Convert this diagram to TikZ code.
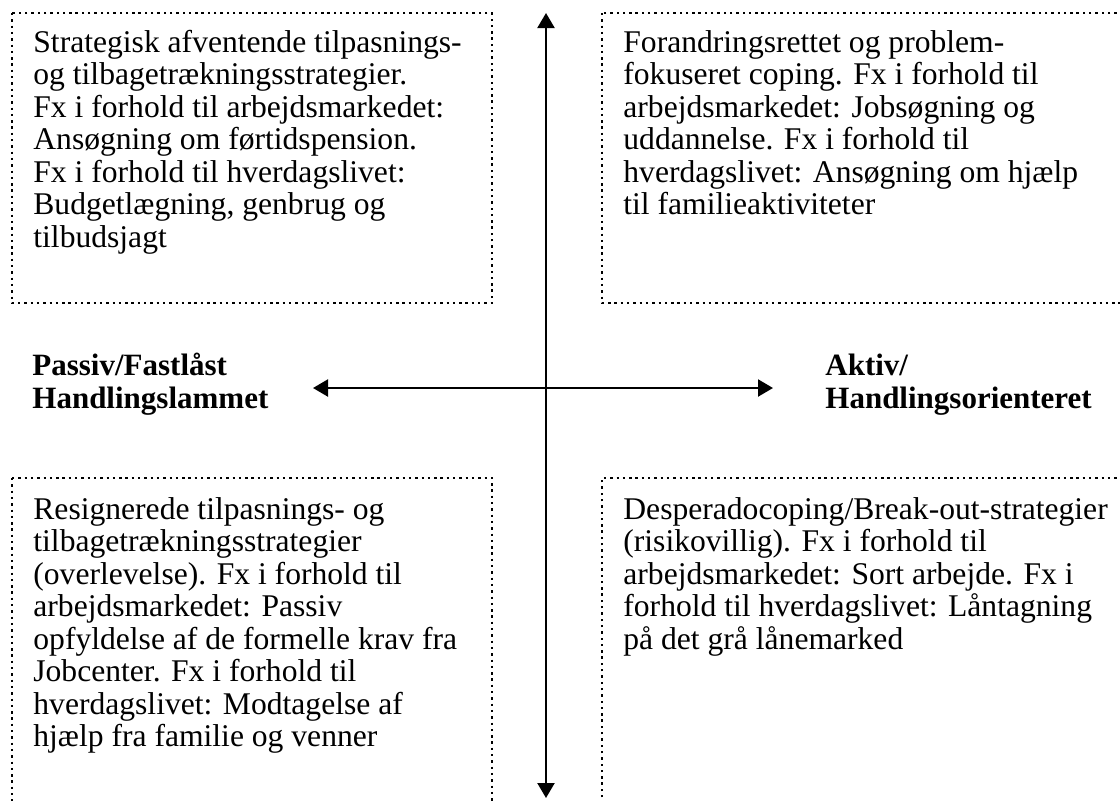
\documentclass[tikz,border=0pt]{standalone}
\usepackage{fontspec}
\setmainfont{Liberation Serif}
\usetikzlibrary{arrows.meta}

\tikzset{
  quadbox/.style={line width=1.2pt, dash pattern=on 1.2pt off 1.95pt},
  quadtext/.style={anchor=base west, align=left, inner sep=0pt,
    font=\fontsize{15.8}{16.25}\selectfont},
  axislabel/.style={anchor=base west, align=left, inner sep=0pt,
    font=\fontsize{15.5}{16.5}\selectfont\bfseries},
  axisarrow/.style={line width=1.1pt,
    {Triangle[length=7.5pt,width=8.5pt]}-{Triangle[length=7.5pt,width=8.5pt]}}
}

\begin{document}
\begin{tikzpicture}[x=0.5pt,y=-0.5pt]
  \useasboundingbox (0,0) rectangle (1120,800);

  % dotted quadrant boxes
  \draw[quadbox] (12,13) rectangle (492,303);
  \draw[quadbox] (602,13) rectangle (1130,303);
  \draw[quadbox] (12,478) -- (12,810);
  \draw[quadbox] (12,478) -- (492,478) -- (492,810);
  \draw[quadbox] (602,810) -- (602,478) -- (1130,478);

  % quadrant texts (placed at the baseline of their last line)
  \node[quadtext] (strategisk) at (33,247) {Strategisk afventende tilpasnings-\\og tilbagetrækningsstrategier.\\Fx i forhold til arbejdsmarkedet:\\Ansøgning om førtidspension.\\Fx i forhold til hverdagslivet:\\Budgetlægning, genbrug og\\tilbudsjagt};
  \node[quadtext] (forandring) at (623,214.5) {Forandringsrettet og problem-\\fokuseret coping. Fx i forhold til\\arbejdsmarkedet: Jobsøgning og\\uddannelse. Fx i forhold til\\hverdagslivet: Ansøgning om hjælp\\til familieaktiviteter};
  \node[quadtext] (resigneret) at (33,746.5) {Resignerede tilpasnings- og\\tilbagetrækningsstrategier\\(overlevelse). Fx i forhold til\\arbejdsmarkedet: Passiv\\opfyldelse af de formelle krav fra\\Jobcenter. Fx i forhold til\\hverdagslivet: Modtagelse af\\hjælp fra familie og venner};
  \node[quadtext] (desperado) at (623,649) {Desperadocoping/Break-out-strategier\\(risikovillig). Fx i forhold til\\arbejdsmarkedet: Sort arbejde. Fx i\\forhold til hverdagslivet: Låntagning\\på det grå lånemarked};

  % axis labels
  \node[axislabel] (passiv) at (32,408) {Passiv/Fastlåst\\Handlingslammet};
  \node[axislabel] (aktiv) at (825,408) {Aktiv/\\Handlingsorienteret};

  % axes
  \coordinate (top) at (546,13);
  \coordinate (bottom) at (546,798);
  \coordinate (left) at (313,388);
  \coordinate (right) at (773,388);
  \draw[axisarrow] (bottom) -- (top);
  \draw[axisarrow] (left) -- (right);
\end{tikzpicture}
\end{document}
